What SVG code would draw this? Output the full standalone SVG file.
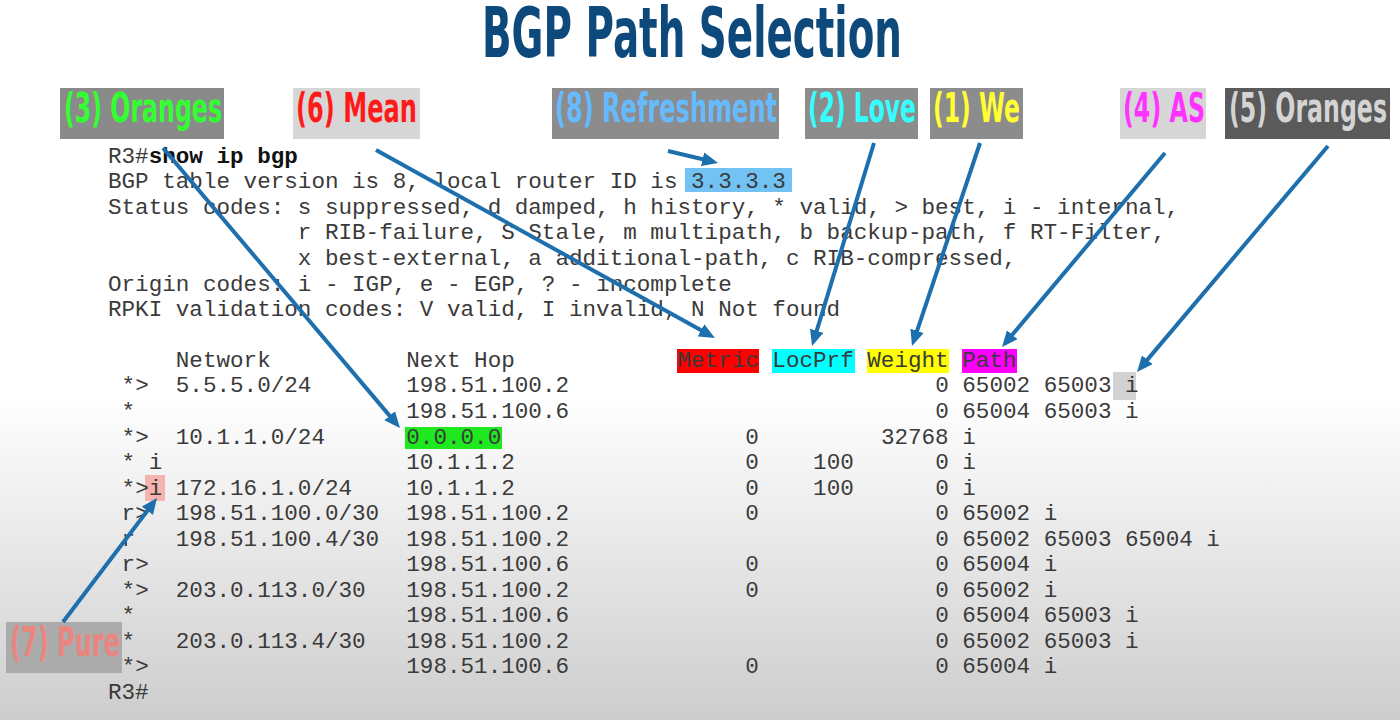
<svg xmlns="http://www.w3.org/2000/svg" width="1400" height="720" viewBox="0 0 1400 720">
<style>
.cli{font-family:"Liberation Mono","Courier New",monospace;font-size:22.6px;fill:#3a3a3a;white-space:pre}
.b{font-weight:bold;fill:#111}
.lbl{font-family:"DejaVu Sans","Liberation Sans",sans-serif;font-weight:bold;font-size:41px}
.arr{stroke:#1d6fae;stroke-width:4;fill:none;marker-end:url(#ah)}
.e{text-anchor:end}
</style>
<defs>
<linearGradient id="bg" x1="0" y1="0" x2="0" y2="720" gradientUnits="userSpaceOnUse">
<stop offset="0" stop-color="#ffffff"/>
<stop offset="0.55" stop-color="#ffffff"/>
<stop offset="1" stop-color="#cdcdcd"/>
</linearGradient>
<marker id="ah" viewBox="0 0 16 14" refX="10" refY="7" markerWidth="16" markerHeight="14" markerUnits="userSpaceOnUse" orient="auto">
<path d="M0,0 L16,7 L0,14 z" fill="#1d6fae"/>
</marker>
</defs>
<rect width="1400" height="720" fill="url(#bg)"/>
<text x="692" y="57" text-anchor="middle" font-family="DejaVu Sans,Liberation Sans,sans-serif" font-weight="bold" font-size="70" fill="#0d4a7b" textLength="420" lengthAdjust="spacingAndGlyphs">BGP Path Selection</text>

<g id="highlights">
<rect x="685" y="168" width="107" height="24" fill="#72c2f4"/>
<rect x="677" y="349" width="82" height="24" fill="#ff0000"/>
<rect x="772" y="349" width="83" height="24" fill="#00ffff"/>
<rect x="867" y="349" width="82" height="24" fill="#ffff00"/>
<rect x="962" y="349" width="55" height="24" fill="#ff00ff"/>
<rect x="405" y="427" width="97" height="22" fill="#1fe81f"/>
<rect x="1113" y="372" width="23" height="28" fill="#d2d2d2"/>
<rect x="145" y="475" width="20" height="26" fill="#f5b4b0"/>
</g>

<g id="cli-header">
<text class="cli" x="108" y="163">R3#<tspan class="b">show ip bgp</tspan></text>
<text class="cli" x="108" y="188">BGP table version is 8, local router ID is 3.3.3.3</text>
<text class="cli" x="108" y="214">Status codes: s suppressed, d damped, h history, * valid, &gt; best, i - internal,</text>
<text class="cli" x="108" y="239">              r RIB-failure, S Stale, m multipath, b backup-path, f RT-Filter,</text>
<text class="cli" x="108" y="265">              x best-external, a additional-path, c RIB-compressed,</text>
<text class="cli" x="108" y="291">Origin codes: i - IGP, e - EGP, ? - incomplete</text>
<text class="cli" x="108" y="316">RPKI validation codes: V valid, I invalid, N Not found</text>
</g>

<g id="table">
<text class="cli" x="108" y="367">     Network          Next Hop            Metric LocPrf Weight Path</text>
<g>
<text class="cli" x="121.6" y="392">*&gt;</text><text class="cli" x="175.8" y="392">5.5.5.0/24</text><text class="cli" x="406.3" y="392">198.51.100.2</text><text class="cli e" x="948.7" y="392">0</text><text class="cli" x="962.3" y="392">65002 65003 i</text>
<text class="cli" x="121.6" y="418">*</text><text class="cli" x="406.3" y="418">198.51.100.6</text><text class="cli e" x="948.7" y="418">0</text><text class="cli" x="962.3" y="418">65004 65003 i</text>
<text class="cli" x="121.6" y="444">*&gt;</text><text class="cli" x="175.8" y="444">10.1.1.0/24</text><text class="cli" x="406.3" y="444">0.0.0.0</text><text class="cli e" x="758.9" y="444">0</text><text class="cli e" x="948.7" y="444">32768</text><text class="cli" x="962.3" y="444">i</text>
<text class="cli" x="121.6" y="469">* i</text><text class="cli" x="406.3" y="469">10.1.1.2</text><text class="cli e" x="758.9" y="469">0</text><text class="cli e" x="853.8" y="469">100</text><text class="cli e" x="948.7" y="469">0</text><text class="cli" x="962.3" y="469">i</text>
<text class="cli" x="121.6" y="495">*&gt;i</text><text class="cli" x="175.8" y="495">172.16.1.0/24</text><text class="cli" x="406.3" y="495">10.1.1.2</text><text class="cli e" x="758.9" y="495">0</text><text class="cli e" x="853.8" y="495">100</text><text class="cli e" x="948.7" y="495">0</text><text class="cli" x="962.3" y="495">i</text>
<text class="cli" x="121.6" y="520">r&gt;</text><text class="cli" x="175.8" y="520">198.51.100.0/30</text><text class="cli" x="406.3" y="520">198.51.100.2</text><text class="cli e" x="758.9" y="520">0</text><text class="cli e" x="948.7" y="520">0</text><text class="cli" x="962.3" y="520">65002 i</text>
<text class="cli" x="121.6" y="546">r</text><text class="cli" x="175.8" y="546">198.51.100.4/30</text><text class="cli" x="406.3" y="546">198.51.100.2</text><text class="cli e" x="948.7" y="546">0</text><text class="cli" x="962.3" y="546">65002 65003 65004 i</text>
<text class="cli" x="121.6" y="571">r&gt;</text><text class="cli" x="406.3" y="571">198.51.100.6</text><text class="cli e" x="758.9" y="571">0</text><text class="cli e" x="948.7" y="571">0</text><text class="cli" x="962.3" y="571">65004 i</text>
<text class="cli" x="121.6" y="597">*&gt;</text><text class="cli" x="175.8" y="597">203.0.113.0/30</text><text class="cli" x="406.3" y="597">198.51.100.2</text><text class="cli e" x="758.9" y="597">0</text><text class="cli e" x="948.7" y="597">0</text><text class="cli" x="962.3" y="597">65002 i</text>
<text class="cli" x="121.6" y="622">*</text><text class="cli" x="406.3" y="622">198.51.100.6</text><text class="cli e" x="948.7" y="622">0</text><text class="cli" x="962.3" y="622">65004 65003 i</text>
<text class="cli" x="121.6" y="648">*</text><text class="cli" x="175.8" y="648">203.0.113.4/30</text><text class="cli" x="406.3" y="648">198.51.100.2</text><text class="cli e" x="948.7" y="648">0</text><text class="cli" x="962.3" y="648">65002 65003 i</text>
<text class="cli" x="121.6" y="673">*&gt;</text><text class="cli" x="406.3" y="673">198.51.100.6</text><text class="cli e" x="758.9" y="673">0</text><text class="cli e" x="948.7" y="673">0</text><text class="cli" x="962.3" y="673">65004 i</text>
<text class="cli" x="108" y="699">R3#</text>
</g>
</g>

<g id="label-3">
<rect x="60" y="88" width="164" height="51" fill="#8a8a8a"/>
<text class="lbl" x="64" y="122" fill="#33ff33" textLength="158" lengthAdjust="spacingAndGlyphs">(3) Oranges</text>
</g>
<g id="label-6">
<rect x="293" y="88" width="127" height="51" fill="#d6d6d6"/>
<text class="lbl" x="296" y="122" fill="#ff1a1a" textLength="121" lengthAdjust="spacingAndGlyphs">(6) Mean</text>
</g>
<g id="label-8">
<rect x="552" y="88" width="227" height="51" fill="#8c8c8c"/>
<text class="lbl" x="555" y="122" fill="#66bbff" textLength="222" lengthAdjust="spacingAndGlyphs">(8) Refreshment</text>
</g>
<g id="label-2">
<rect x="805" y="88" width="113" height="51" fill="#8c8c8c"/>
<text class="lbl" x="808" y="122" fill="#33ffff" textLength="108" lengthAdjust="spacingAndGlyphs">(2) Love</text>
</g>
<g id="label-1">
<rect x="930" y="88" width="93" height="51" fill="#8c8c8c"/>
<text class="lbl" x="933" y="122" fill="#ffff33" textLength="87" lengthAdjust="spacingAndGlyphs">(1) We</text>
</g>
<g id="label-4">
<rect x="1120" y="88" width="86" height="51" fill="#d6d6d6"/>
<text class="lbl" x="1123" y="122" fill="#ff33ff" textLength="82" lengthAdjust="spacingAndGlyphs">(4) AS</text>
</g>
<g id="label-5">
<rect x="1225" y="88" width="165" height="51" fill="#5a5a5a"/>
<text class="lbl" x="1229" y="122" fill="#d4d4d4" textLength="158" lengthAdjust="spacingAndGlyphs">(5) Oranges</text>
</g>
<g id="label-7">
<rect x="6" y="622" width="116" height="51" fill="#ababab"/>
<text class="lbl" x="10" y="656" fill="#ea8580" textLength="110" lengthAdjust="spacingAndGlyphs">(7) Pure</text>
</g>

<g id="connectors">
<line class="arr" x1="163" y1="148" x2="396.1" y2="423.4"/>
<line class="arr" x1="376" y1="150" x2="709.7" y2="335.1"/>
<line class="arr" x1="668" y1="151" x2="712.3" y2="161.5"/>
<line class="arr" x1="874" y1="143" x2="813.8" y2="340.3"/>
<line class="arr" x1="980" y1="143" x2="913.9" y2="340.3"/>
<line class="arr" x1="1165" y1="153" x2="1005.9" y2="342.4"/>
<line class="arr" x1="1328" y1="146" x2="1140.9" y2="367.4"/>
<line class="arr" x1="63" y1="622" x2="153.4" y2="502.8"/>
</g>
</svg>
